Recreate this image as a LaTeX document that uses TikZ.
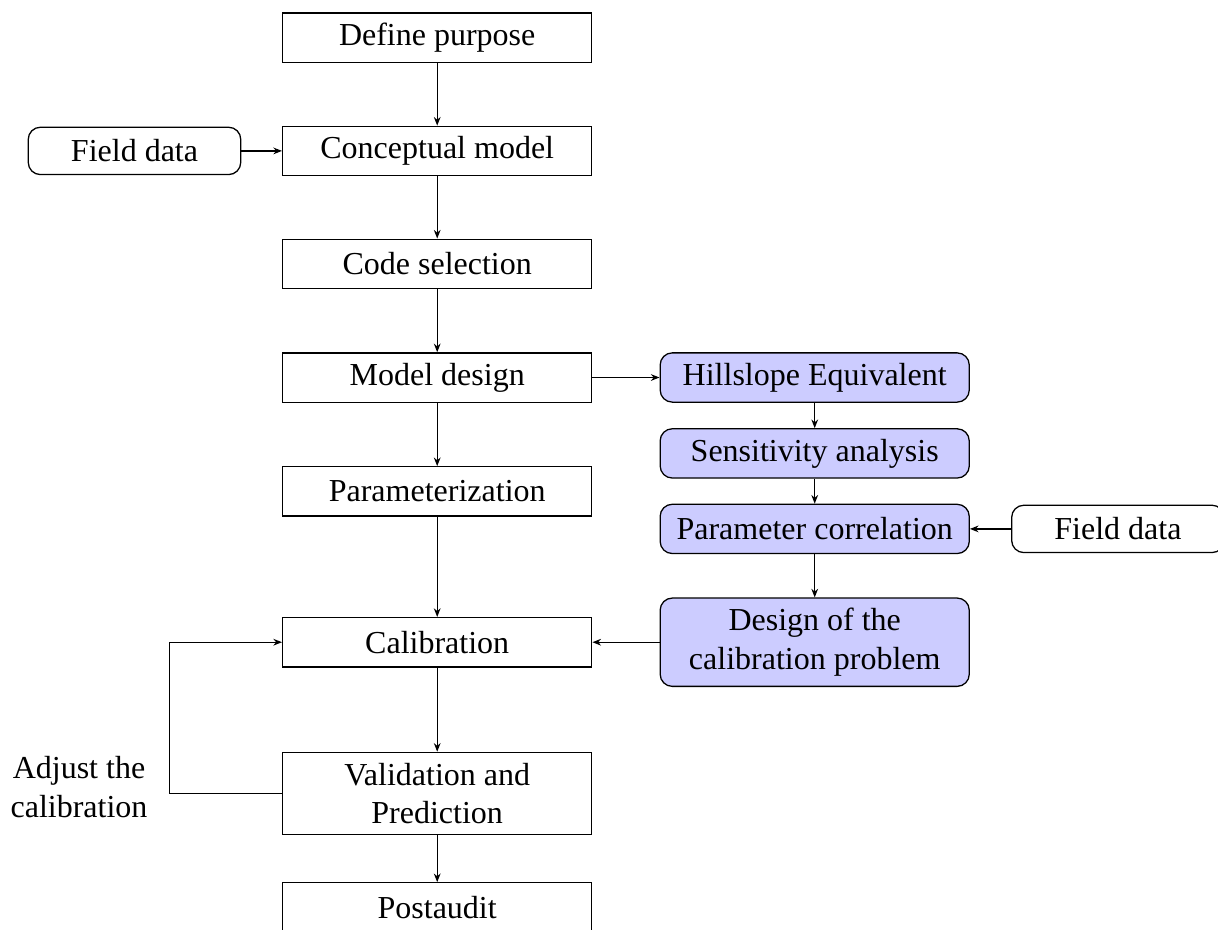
\documentclass[tikz,border=0pt]{standalone}
\usepackage{fontspec}
\setmainfont{Liberation Serif}
\usetikzlibrary{arrows.meta}
\begin{document}
\begin{tikzpicture}[x=0.3125pt,y=-0.3125pt,
  line width=0.4pt,
  box/.style={draw, rectangle, minimum width=96.6pt, minimum height=15.4pt, inner sep=0pt, align=center},
  sbox/.style={box, rounded corners=3.8pt, fill=blue!20},
  dbox/.style={draw, rectangle, rounded corners=3.8pt, minimum width=66.4pt, minimum height=14.8pt, inner sep=0pt},
  arr/.style={-{Stealth[length=2.7pt,width=2.1pt]}}]
\useasboundingbox (0,0) rectangle (1218,929);
\clip (0,0) rectangle (1218,929);
% main column
\node[box] (def) at (437.2,37.5) {Define purpose};
\node[box] (con) at (437.2,150.9) {Conceptual model};
\node[box] (code) at (437.2,263.8) {Code selection};
\node[box] (mod) at (437.2,377.5) {Model design};
\node[box] (par) at (437.2,491.4) {Parameterization};
\node[box] (cal) at (437.2,642.2) {Calibration};
\node[box, minimum height=25.6pt] (val) at (437.2,793.3) {Validation and\\Prediction};
\node[box] (post) at (437.2,907.4) {Postaudit};
% field data left
\node[dbox] (fd1) at (134.5,150.9) {Field data};
% right column
\node[sbox] (hill) at (814.7,377.5) {Hillslope Equivalent};
\node[sbox] (sens) at (814.7,453.4) {Sensitivity analysis};
\node[sbox] (pc) at (814.7,528.9) {Parameter correlation};
\node[sbox, minimum height=27.6pt] (des) at (814.7,642.2) {Design of the\\calibration problem};
\node[dbox] (fd2) at (1117.9,528.9) {Field data};
% loop label
\node[align=center, inner sep=0pt] (adj) at (79,787) {Adjust the\\calibration};
\coordinate (lp) at (169.3,700);
% connectors
\draw[arr] (def) -- (con);
\draw[arr] (con) -- (code);
\draw[arr] (code) -- (mod);
\draw[arr] (mod) -- (par);
\draw[arr] (par) -- (cal);
\draw[arr] (cal) -- (val);
\draw[arr] (val) -- (post);
\draw[arr] (fd1) -- (con);
\draw[arr] (mod) -- (hill);
\draw[arr] (hill) -- (sens);
\draw[arr] (sens) -- (pc);
\draw[arr] (pc) -- (des);
\draw[arr] (fd2) -- (pc);
\draw[arr] (des) -- (cal);
\draw[arr] (val.west) -- (val.west -| lp) |- (cal.west);
\end{tikzpicture}
\end{document}
